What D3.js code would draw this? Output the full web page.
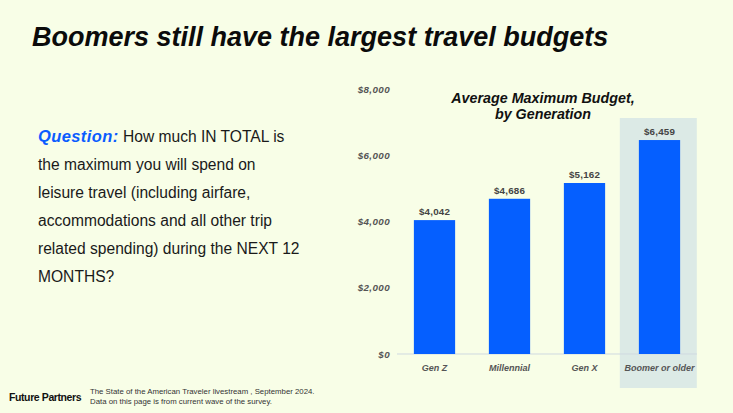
<!DOCTYPE html>
<html lang="en">
<head>
<meta charset="UTF-8">
<title>Boomers still have the largest travel budgets</title>
<script src="https://cdn.jsdelivr.net/npm/d3@7"></script>
<style>
    body { margin: 0; background: #f8fee7; }
    svg { display: block; background: #f8fee7; font-family: "Liberation Sans", Arial, sans-serif; }
</style>
</head>
<body>
<script>
    const generations = ["Gen Z", "Millennial", "Gen X", "Boomer or older"];
    const budgets = [4042, 4686, 5162, 6459];
    const budgetLabels = ["$4,042", "$4,686", "$5,162", "$6,459"];
    const yTicks = [0, 2000, 4000, 6000, 8000];
    const highlighted = "Boomer or older";

    const questionLines = [
        "How much IN TOTAL is",
        "the maximum you will spend on",
        "leisure travel (including airfare,",
        "accommodations and all other trip",
        "related spending) during the NEXT 12",
        "MONTHS?"
    ];
    const footnote = [
        "The State of the American Traveler livestream , September 2024.",
        "Data on this page is from current wave of the survey."
    ];

    const width = 733, height = 413;
    const svg = d3.select("body").append("svg")
        .attr("width", width).attr("height", height);

    // headline
    svg.append("text")
        .attr("x", 32).attr("y", 46)
        .style("font-size", "27px").style("font-weight", "bold").style("font-style", "italic")
        .attr("fill", "#0b0b0b")
        .text("Boomers still have the largest travel budgets");

    // question block
    const q = svg.append("g").style("font-size", "15.6px").attr("fill", "#1a1a1a");
    q.selectAll("text").data(questionLines).join("text")
        .attr("x", 38)
        .attr("y", (d, i) => 142 + i * 28)
        .each(function(d, i) {
            const t = d3.select(this);
            if (i === 0) {
                t.append("tspan")
                    .attr("fill", "#0a5cff")
                    .style("font-weight", "bold").style("font-style", "italic")
                    .style("font-size", "16.5px").style("letter-spacing", "0.4px")
                    .text("Question:");
                t.append("tspan").text(" " + d);
            } else {
                t.text(d);
            }
        });

    // chart
    const x = d3.scaleBand().domain(generations).range([397, 697])
        .paddingInner(0.45).paddingOuter(0.225);
    const y = d3.scaleLinear().domain([0, 8000]).range([354, 89]);

    const step = x.step();
    svg.append("rect")
        .attr("x", x(highlighted) - x.bandwidth() * 0.45 - 0.5)
        .attr("width", step + 2)
        .attr("y", 118).attr("height", 388 - 118)
        .attr("fill", "#dceae6");

    const axisFont = sel => sel
        .attr("fill", "#555")
        .style("font-weight", "bold").style("font-style", "italic")
        .style("font-family", "'Liberation Sans', Arial, sans-serif");

    const yAxis = svg.append("g")
        .attr("transform", "translate(390,0)")
        .call(d3.axisLeft(y).tickValues(yTicks).tickSize(0).tickPadding(0)
            .tickFormat(d => "$" + d3.format(",")(d)));
    yAxis.select(".domain").remove();
    yAxis.selectAll("text").call(axisFont)
        .style("font-size", "9.8px").style("letter-spacing", "0.4px");

    svg.append("line")
        .attr("x1", 397).attr("x2", 697)
        .attr("y1", y(0)).attr("y2", y(0))
        .attr("stroke", "#cfd9e0").attr("stroke-width", 1);

    svg.selectAll("rect.bar").data(generations).join("rect")
        .attr("class", "bar")
        .attr("x", d => x(d))
        .attr("width", x.bandwidth())
        .attr("y", (d, i) => y(budgets[i]))
        .attr("height", (d, i) => y(0) - y(budgets[i]))
        .attr("fill", "#055fff");

    svg.selectAll("text.val").data(generations).join("text")
        .attr("class", "val")
        .attr("x", d => x(d) + x.bandwidth() / 2)
        .attr("y", (d, i) => y(budgets[i]) - 5)
        .attr("text-anchor", "middle")
        .attr("fill", "#444")
        .style("font-size", "9.8px").style("font-weight", "bold").style("letter-spacing", "0.2px")
        .text((d, i) => budgetLabels[i]);

    const xAxis = svg.append("g")
        .attr("transform", `translate(0,${y(0)})`)
        .call(d3.axisBottom(x).tickSize(0).tickPadding(11));
    xAxis.select(".domain").remove();
    xAxis.selectAll("text").call(axisFont).style("font-size", "9px");

    // chart title
    svg.selectAll("text.ctitle").data(["Average Maximum Budget,", "by Generation"]).join("text")
        .attr("class", "ctitle")
        .attr("x", 543).attr("y", (d, i) => 103 + i * 16)
        .attr("text-anchor", "middle")
        .attr("fill", "#111")
        .style("font-size", "14.3px").style("font-weight", "bold").style("font-style", "italic")
        .text(d => d);

    // footer
    svg.append("text")
        .attr("x", 9).attr("y", 401)
        .attr("fill", "#111")
        .style("font-size", "10.5px").style("font-weight", "bold").style("letter-spacing", "-0.4px")
        .text("Future Partners");
    svg.selectAll("text.foot").data(footnote).join("text")
        .attr("class", "foot")
        .attr("x", 90).attr("y", (d, i) => 394 + i * 10)
        .attr("fill", "#333")
        .style("font-size", "7.8px")
        .text(d => d);
</script>
</body>
</html>
